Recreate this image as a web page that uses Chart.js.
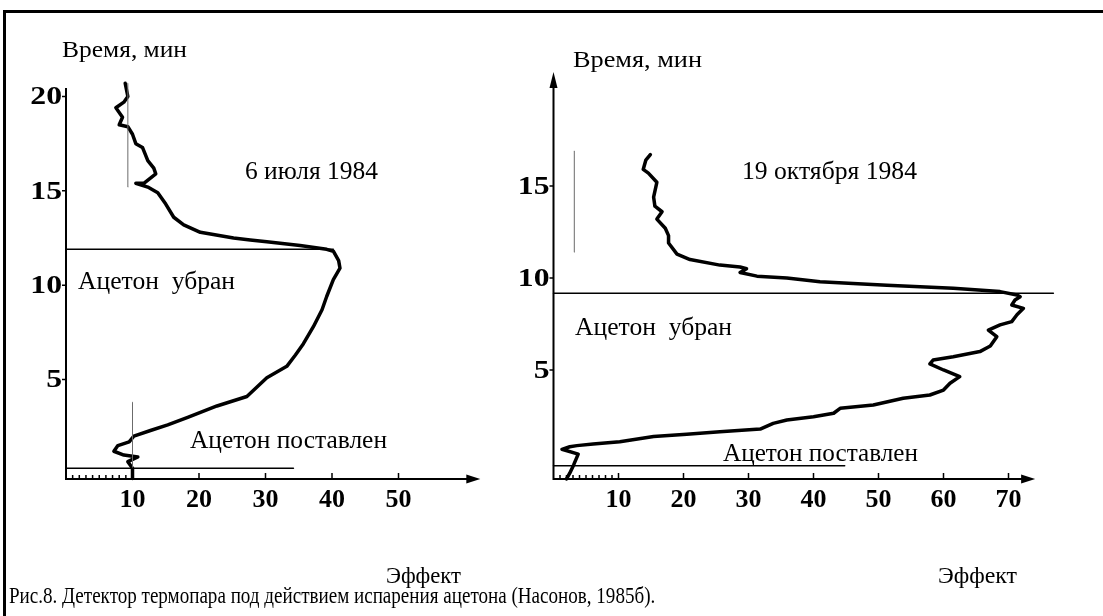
<!DOCTYPE html>
<html>
<head>
<meta charset="utf-8">
<script src="https://cdn.jsdelivr.net/npm/chart.js@4.4.1/dist/chart.umd.min.js"></script>
<style>
html, body { margin: 0; padding: 0; background: #fff; }
body { position: relative; width: 1103px; height: 616px; overflow: hidden; }
#frame { position: absolute; left: 3px; top: 10px; right: 0; bottom: 0; border-left: 3px solid #000; border-top: 3px solid #000; }
#julyChart { position: absolute; left: 0; top: 0; }
#octChart { position: absolute; left: 500px; top: 0; }
#caption { position: absolute; left: 9px; top: 583px; font: 24px 'Liberation Serif', serif; line-height: 24px; white-space: nowrap; transform-origin: 0 0; color: #000; }
</style>
</head>
<body>
<div id="frame"></div>
<canvas id="julyChart" width="500" height="616"></canvas>
<canvas id="octChart" width="603" height="616"></canvas>
<div id="caption">Рис.8. Детектор термопара под действием испарения ацетона (Насонов, 1985б).</div>
<script>
// 6 июля 1984: effect (x) against time in minutes (y)
const julyEffect = [8.9, 9.3, 8.7, 7.5, 8.5, 8.0, 9.3, 10.0, 10.5, 11.5, 12.3, 13.2, 13.5, 11.7, 10.5, 12.3, 13.8, 15.0, 16.2, 17.7, 20.2, 25.2, 27.7, 30.2, 35.2, 39.2, 40.2, 41.0, 41.2, 40.2, 39.2, 38.5, 37.2, 35.7, 34.5, 33.2, 30.2, 27.2, 22.7, 18.3, 15.3, 12.7, 10.2, 9.5, 7.8, 7.2, 8.7, 10.8, 9.3, 10.0, 10.0];
const julyTime = [20.7, 20.0, 19.7, 19.4, 18.9, 18.5, 18.4, 18.0, 17.5, 17.3, 16.6, 16.2, 15.9, 15.4, 15.4, 15.2, 14.9, 14.3, 13.6, 13.2, 12.8, 12.5, 12.4, 12.3, 12.1, 11.9, 11.8, 11.3, 10.9, 10.3, 9.4, 8.7, 7.8, 6.9, 6.3, 5.7, 5.1, 4.1, 3.6, 3.0, 2.6, 2.3, 2.0, 1.7, 1.5, 1.2, 1.0, 0.9, 0.65, 0.3, -0.25];

// 19 октября 1984
const octEffect = [14.9, 14.2, 13.8, 14.6, 15.9, 15.4, 15.6, 16.7, 15.9, 17.2, 17.7, 17.7, 19.0, 21.0, 25.6, 28.7, 29.7, 28.7, 31.3, 35.9, 41.0, 46.1, 51.3, 61.5, 68.7, 71.3, 71.8, 71.0, 70.5, 72.3, 71.3, 70.5, 68.7, 66.9, 68.2, 67.2, 65.6, 61.5, 58.4, 57.9, 60.0, 62.5, 61.0, 60.0, 57.9, 53.8, 49.2, 44.1, 43.1, 40.0, 35.9, 33.8, 31.8, 25.6, 20.5, 15.4, 10.2, 6.1, 3.6, 2.5, 1.3, 3.8, 3.1, 2.5, 2.0];
const octTime = [16.7, 16.4, 15.9, 15.7, 15.2, 14.4, 13.9, 13.6, 13.2, 12.7, 12.3, 11.9, 11.3, 11.0, 10.7, 10.6, 10.5, 10.3, 10.1, 10.0, 9.8, 9.7, 9.6, 9.44, 9.26, 9.08, 8.98, 8.8, 8.53, 8.35, 8.0, 7.63, 7.45, 7.17, 6.81, 6.3, 6.0, 5.72, 5.54, 5.33, 5.0, 4.64, 4.28, 3.91, 3.64, 3.46, 3.1, 2.92, 2.65, 2.46, 2.28, 2.1, 1.79, 1.65, 1.51, 1.38, 1.1, 0.98, 0.89, 0.83, 0.69, 0.43, -0.16, -0.61, -0.92];

// acetone placed / removed (time) and how far the marker line runs (effect)
const julyEvents = [0.3, 11.9];
const julyEventEnds = [34.2, 40.2];
const octEvents = [-0.2, 9.17];
const octEventEnds = [44.8, 76.9];

// thin vertical reference marks
const julyGuideX = [9.3, 10];
const julyGuideFrom = [15.2, 0.3];
const julyGuideTo = [20.7, 3.8];
const octGuideX = [3.2];
const octGuideFrom = [11.4];
const octGuideTo = [16.9];

// tick labels
const julyXTicks = [10, 20, 30, 40, 50];
const julyYTicks = [5, 10, 15, 20];
const octXTicks = [10, 20, 30, 40, 50, 60, 70];
const octYTicks = [5, 10, 15];
const minorTicks = [1, 2, 3, 4, 5, 6, 7, 8, 9];

const tickFont = { family: "'Liberation Serif', serif", size: 26, weight: 'bold' };

function fitText(ctx, text, x, base, w, size) {
	ctx.save();
	ctx.font = size + "px 'Liberation Serif', serif";
	ctx.fillStyle = '#000';
	ctx.textBaseline = 'alphabetic';
	ctx.textAlign = 'left';
	const m = ctx.measureText(text).width;
	ctx.translate(x, base);
	ctx.scale(w / m, 1);
	ctx.fillText(text, 0, 0);
	ctx.restore();
}

const axesPlugin = {
	id: 'axes',
	afterDraw(chart) {
		const o = chart.options.plugins.axes;
		const ctx = chart.ctx;
		const xs = chart.scales.x, ys = chart.scales.y;
		const x0 = xs.getPixelForValue(0), y0 = ys.getPixelForValue(ys.min);
		const xEnd = xs.getPixelForValue(o.xEnd), yEnd = ys.getPixelForValue(o.yEnd);

		ctx.save();
		ctx.strokeStyle = '#000';
		ctx.fillStyle = '#000';
		ctx.lineWidth = 2;
		ctx.beginPath();
		ctx.moveTo(x0, y0);
		ctx.lineTo(xEnd - 6, y0);
		ctx.moveTo(x0, y0 + 1);
		ctx.lineTo(x0, yEnd + (o.yArrow ? 6 : 0));
		ctx.stroke();

		// arrow heads
		ctx.beginPath();
		ctx.moveTo(xEnd, y0);
		ctx.lineTo(xEnd - 14, y0 - 4.5);
		ctx.lineTo(xEnd - 14, y0 + 4.5);
		ctx.closePath();
		ctx.fill();
		if (o.yArrow) {
			ctx.beginPath();
			ctx.moveTo(x0, yEnd);
			ctx.lineTo(x0 - 4, yEnd + 16);
			ctx.lineTo(x0 + 4, yEnd + 16);
			ctx.closePath();
			ctx.fill();
		}

		// tick marks
		ctx.lineWidth = 1.5;
		ctx.beginPath();
		o.xTicks.forEach(v => {
			const p = xs.getPixelForValue(v);
			ctx.moveTo(p, y0);
			ctx.lineTo(p, y0 - 6);
		});
		minorTicks.forEach(v => {
			const p = xs.getPixelForValue(v);
			ctx.moveTo(p, y0);
			ctx.lineTo(p, y0 - 4);
		});
		o.yTicks.forEach(v => {
			const p = ys.getPixelForValue(v);
			ctx.moveTo(x0, p);
			ctx.lineTo(x0 - 4, p);
		});
		ctx.stroke();

		// y tick labels: the original uses a wide bold face
		ctx.font = 'bold 26px ' + tickFont.family;
		ctx.textAlign = 'right';
		ctx.textBaseline = 'middle';
		ys.ticks.forEach(t => {
			const p = ys.getPixelForValue(t.value);
			ctx.save();
			ctx.translate(x0 - 4, p + 1);
			ctx.scale(1.22, 1);
			ctx.fillText(String(t.value), 0, 0);
			ctx.restore();
		});
		ctx.restore();

		o.labels.forEach(l => fitText(ctx, l.text, l.x - o.offset, l.base, l.w, l.size));
	}
};

function line(points, width, color) {
	return {
		data: points,
		showLine: true,
		pointRadius: 0,
		borderColor: color,
		borderWidth: width,
		borderJoinStyle: 'round',
		borderCapStyle: 'round',
		clip: false
	};
}

function makeChart(id, s) {
	const datasets = [];
	s.events.forEach((t, i) => datasets.push(line([{ x: 0, y: t }, { x: s.eventEnds[i], y: t }], 1.5, '#000')));
	s.guideX.forEach((g, i) => datasets.push(line([{ x: g, y: s.guideFrom[i] }, { x: g, y: s.guideTo[i] }], 1, '#6b6b6b')));
	datasets.push(line(s.effect.map((e, i) => ({ x: e, y: s.time[i] })), 3.5, '#000'));

	new Chart(document.getElementById(id).getContext('2d'), {
		type: 'scatter',
		data: { datasets: datasets },
		options: {
			responsive: false,
			animation: false,
			events: [],
			layout: { padding: s.padding },
			plugins: {
				legend: { display: false },
				tooltip: { enabled: false },
				axes: s.axes
			},
			scales: {
				x: {
					type: 'linear',
					min: 0,
					max: s.xMax,
					grid: { display: false, drawTicks: false },
					border: { display: false },
					ticks: { font: tickFont, color: '#000', padding: 6, autoSkip: false, maxRotation: 0 },
					afterBuildTicks: sc => { sc.ticks = s.axes.xTicks.map(v => ({ value: v })); },
					afterFit: sc => { sc.height = 40; }
				},
				y: {
					type: 'linear',
					min: s.yMin,
					max: s.yMax,
					grid: { display: false, drawTicks: false },
					border: { display: false },
					ticks: { display: false },
					afterBuildTicks: sc => { sc.ticks = s.axes.yTicks.map(v => ({ value: v })); },
					afterFit: sc => { sc.width = s.yWidth; }
				}
			}
		},
		plugins: [axesPlugin]
	});
}

makeChart('julyChart', {
	effect: julyEffect, time: julyTime,
	events: julyEvents, eventEnds: julyEventEnds,
	guideX: julyGuideX, guideFrom: julyGuideFrom, guideTo: julyGuideTo,
	xMax: 62.3, yMin: -0.27, yMax: 21,
	yWidth: 50,
	padding: { left: 16, right: 19.7, top: 77.6, bottom: 97 },
	axes: {
		offset: 0, xEnd: 62.3, yEnd: 20.45, yArrow: false,
		xTicks: julyXTicks, yTicks: julyYTicks,
		labels: [
			{ text: 'Время, мин', x: 62, base: 57, w: 125, size: 24 },
			{ text: '6 июля 1984', x: 245, base: 179, w: 133, size: 25 },
			{ text: 'Ацетон  убран', x: 78, base: 289, w: 157, size: 25 },
			{ text: 'Ацетон поставлен', x: 190, base: 448, w: 197, size: 25 },
			{ text: 'Эффект', x: 386, base: 583, w: 75, size: 24 }
		]
	}
});

makeChart('octChart', {
	effect: octEffect, time: octTime,
	events: octEvents, eventEnds: octEventEnds,
	guideX: octGuideX, guideFrom: octGuideFrom, guideTo: octGuideTo,
	xMax: 77, yMin: -0.924, yMax: 21.2,
	yWidth: 40,
	padding: { left: 13.5, right: 49, top: 71.9, bottom: 97 },
	axes: {
		offset: 500, xEnd: 74.1, yEnd: 21.2, yArrow: true,
		xTicks: octXTicks, yTicks: octYTicks,
		labels: [
			{ text: 'Время, мин', x: 573, base: 67, w: 129, size: 24 },
			{ text: '19 октября 1984', x: 742, base: 179, w: 175, size: 25 },
			{ text: 'Ацетон  убран', x: 575, base: 335, w: 157, size: 25 },
			{ text: 'Ацетон поставлен', x: 723, base: 461, w: 195, size: 25 },
			{ text: 'Эффект', x: 938, base: 583, w: 79, size: 24 }
		]
	}
});

const cap = document.getElementById('caption');
cap.style.transform = 'scaleX(' + (646 / cap.offsetWidth) + ')';
</script>
</body>
</html>
